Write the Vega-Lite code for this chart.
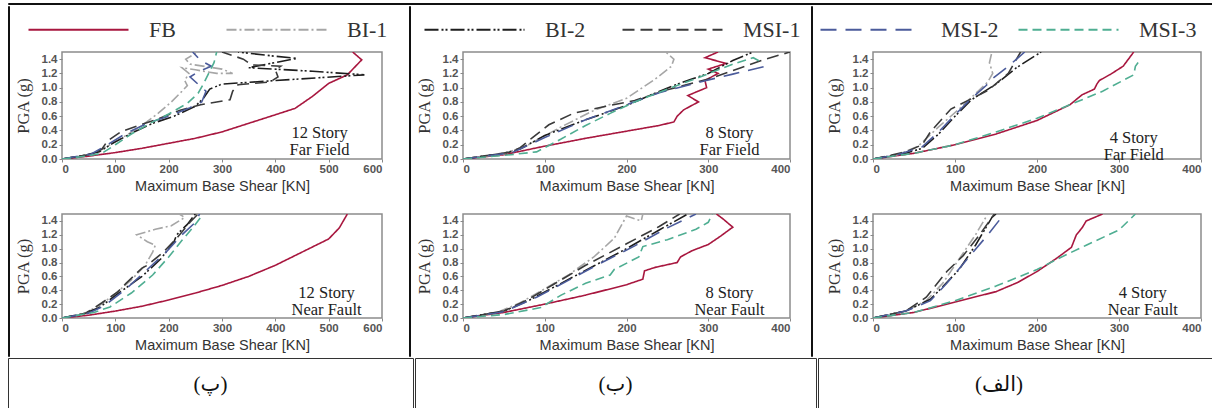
{
"$schema": "https://vega.github.io/schema/vega-lite/v6.json",
"padding": {"left": 7, "top": 2, "right": 0, "bottom": 0},
"datasets": {"c": [
{"p":"12F","s":"FB","x":0,"y":0},{"p":"12F","s":"FB","x":50,"y":0.04},{"p":"12F","s":"FB","x":100,"y":0.09},{"p":"12F","s":"FB","x":150,"y":0.15},{"p":"12F","s":"FB","x":200,"y":0.22},{"p":"12F","s":"FB","x":250,"y":0.29},{"p":"12F","s":"FB","x":300,"y":0.38},{"p":"12F","s":"FB","x":350,"y":0.5},{"p":"12F","s":"FB","x":400,"y":0.62},{"p":"12F","s":"FB","x":437,"y":0.71},{"p":"12F","s":"FB","x":470,"y":0.88},{"p":"12F","s":"FB","x":500,"y":1.06},{"p":"12F","s":"FB","x":535,"y":1.18},{"p":"12F","s":"FB","x":562,"y":1.39},{"p":"12F","s":"FB","x":545,"y":1.5},
{"p":"12F","s":"BI-1","x":0,"y":0},{"p":"12F","s":"BI-1","x":60,"y":0.07},{"p":"12F","s":"BI-1","x":90,"y":0.2},{"p":"12F","s":"BI-1","x":120,"y":0.33},{"p":"12F","s":"BI-1","x":150,"y":0.47},{"p":"12F","s":"BI-1","x":180,"y":0.64},{"p":"12F","s":"BI-1","x":205,"y":0.8},{"p":"12F","s":"BI-1","x":225,"y":0.95},{"p":"12F","s":"BI-1","x":235,"y":1.03},{"p":"12F","s":"BI-1","x":230,"y":1.1},{"p":"12F","s":"BI-1","x":238,"y":1.2},{"p":"12F","s":"BI-1","x":225,"y":1.28},{"p":"12F","s":"BI-1","x":250,"y":1.25},{"p":"12F","s":"BI-1","x":290,"y":1.2},{"p":"12F","s":"BI-1","x":320,"y":1.2},{"p":"12F","s":"BI-1","x":300,"y":1.26},{"p":"12F","s":"BI-1","x":240,"y":1.33},{"p":"12F","s":"BI-1","x":232,"y":1.4},{"p":"12F","s":"BI-1","x":255,"y":1.5},
{"p":"12F","s":"BI-2","x":0,"y":0},{"p":"12F","s":"BI-2","x":40,"y":0.05},{"p":"12F","s":"BI-2","x":70,"y":0.1},{"p":"12F","s":"BI-2","x":95,"y":0.22},{"p":"12F","s":"BI-2","x":130,"y":0.36},{"p":"12F","s":"BI-2","x":170,"y":0.5},{"p":"12F","s":"BI-2","x":210,"y":0.6},{"p":"12F","s":"BI-2","x":250,"y":0.74},{"p":"12F","s":"BI-2","x":265,"y":0.85},{"p":"12F","s":"BI-2","x":277,"y":0.98},{"p":"12F","s":"BI-2","x":300,"y":1.05},{"p":"12F","s":"BI-2","x":400,"y":1.1},{"p":"12F","s":"BI-2","x":567,"y":1.18},{"p":"12F","s":"BI-2","x":470,"y":1.23},{"p":"12F","s":"BI-2","x":350,"y":1.28},{"p":"12F","s":"BI-2","x":440,"y":1.41},{"p":"12F","s":"BI-2","x":400,"y":1.44},{"p":"12F","s":"BI-2","x":330,"y":1.5},
{"p":"12F","s":"MSI-1","x":0,"y":0},{"p":"12F","s":"MSI-1","x":50,"y":0.06},{"p":"12F","s":"MSI-1","x":75,"y":0.14},{"p":"12F","s":"MSI-1","x":85,"y":0.25},{"p":"12F","s":"MSI-1","x":110,"y":0.38},{"p":"12F","s":"MSI-1","x":140,"y":0.46},{"p":"12F","s":"MSI-1","x":180,"y":0.56},{"p":"12F","s":"MSI-1","x":220,"y":0.68},{"p":"12F","s":"MSI-1","x":260,"y":0.76},{"p":"12F","s":"MSI-1","x":290,"y":0.8},{"p":"12F","s":"MSI-1","x":315,"y":0.83},{"p":"12F","s":"MSI-1","x":320,"y":0.95},{"p":"12F","s":"MSI-1","x":330,"y":1.04},{"p":"12F","s":"MSI-1","x":390,"y":1.08},{"p":"12F","s":"MSI-1","x":405,"y":1.15},{"p":"12F","s":"MSI-1","x":400,"y":1.25},{"p":"12F","s":"MSI-1","x":410,"y":1.3},{"p":"12F","s":"MSI-1","x":355,"y":1.32},{"p":"12F","s":"MSI-1","x":340,"y":1.4},{"p":"12F","s":"MSI-1","x":300,"y":1.5},
{"p":"12F","s":"MSI-2","x":0,"y":0},{"p":"12F","s":"MSI-2","x":55,"y":0.07},{"p":"12F","s":"MSI-2","x":85,"y":0.2},{"p":"12F","s":"MSI-2","x":120,"y":0.36},{"p":"12F","s":"MSI-2","x":160,"y":0.5},{"p":"12F","s":"MSI-2","x":200,"y":0.6},{"p":"12F","s":"MSI-2","x":240,"y":0.72},{"p":"12F","s":"MSI-2","x":262,"y":0.8},{"p":"12F","s":"MSI-2","x":270,"y":0.95},{"p":"12F","s":"MSI-2","x":255,"y":1.05},{"p":"12F","s":"MSI-2","x":240,"y":1.15},{"p":"12F","s":"MSI-2","x":255,"y":1.22},{"p":"12F","s":"MSI-2","x":280,"y":1.3},{"p":"12F","s":"MSI-2","x":260,"y":1.38},{"p":"12F","s":"MSI-2","x":245,"y":1.5},
{"p":"12F","s":"MSI-3","x":0,"y":0},{"p":"12F","s":"MSI-3","x":45,"y":0.04},{"p":"12F","s":"MSI-3","x":75,"y":0.08},{"p":"12F","s":"MSI-3","x":100,"y":0.2},{"p":"12F","s":"MSI-3","x":130,"y":0.35},{"p":"12F","s":"MSI-3","x":165,"y":0.5},{"p":"12F","s":"MSI-3","x":200,"y":0.63},{"p":"12F","s":"MSI-3","x":235,"y":0.78},{"p":"12F","s":"MSI-3","x":255,"y":0.92},{"p":"12F","s":"MSI-3","x":265,"y":1.05},{"p":"12F","s":"MSI-3","x":275,"y":1.2},{"p":"12F","s":"MSI-3","x":285,"y":1.35},{"p":"12F","s":"MSI-3","x":290,"y":1.5},
{"p":"12N","s":"FB","x":0,"y":0},{"p":"12N","s":"FB","x":50,"y":0.04},{"p":"12N","s":"FB","x":100,"y":0.1},{"p":"12N","s":"FB","x":150,"y":0.17},{"p":"12N","s":"FB","x":200,"y":0.26},{"p":"12N","s":"FB","x":250,"y":0.36},{"p":"12N","s":"FB","x":300,"y":0.47},{"p":"12N","s":"FB","x":350,"y":0.6},{"p":"12N","s":"FB","x":400,"y":0.76},{"p":"12N","s":"FB","x":450,"y":0.95},{"p":"12N","s":"FB","x":500,"y":1.14},{"p":"12N","s":"FB","x":520,"y":1.3},{"p":"12N","s":"FB","x":535,"y":1.5},
{"p":"12N","s":"BI-1","x":0,"y":0},{"p":"12N","s":"BI-1","x":40,"y":0.06},{"p":"12N","s":"BI-1","x":70,"y":0.18},{"p":"12N","s":"BI-1","x":100,"y":0.35},{"p":"12N","s":"BI-1","x":130,"y":0.55},{"p":"12N","s":"BI-1","x":155,"y":0.75},{"p":"12N","s":"BI-1","x":170,"y":0.95},{"p":"12N","s":"BI-1","x":175,"y":1.05},{"p":"12N","s":"BI-1","x":160,"y":1.1},{"p":"12N","s":"BI-1","x":140,"y":1.2},{"p":"12N","s":"BI-1","x":175,"y":1.28},{"p":"12N","s":"BI-1","x":205,"y":1.33},{"p":"12N","s":"BI-1","x":230,"y":1.45},{"p":"12N","s":"BI-1","x":220,"y":1.5},
{"p":"12N","s":"BI-2","x":0,"y":0},{"p":"12N","s":"BI-2","x":40,"y":0.06},{"p":"12N","s":"BI-2","x":70,"y":0.15},{"p":"12N","s":"BI-2","x":110,"y":0.38},{"p":"12N","s":"BI-2","x":150,"y":0.6},{"p":"12N","s":"BI-2","x":185,"y":0.85},{"p":"12N","s":"BI-2","x":210,"y":1.1},{"p":"12N","s":"BI-2","x":215,"y":1.2},{"p":"12N","s":"BI-2","x":235,"y":1.35},{"p":"12N","s":"BI-2","x":250,"y":1.5},
{"p":"12N","s":"MSI-1","x":0,"y":0},{"p":"12N","s":"MSI-1","x":45,"y":0.07},{"p":"12N","s":"MSI-1","x":75,"y":0.22},{"p":"12N","s":"MSI-1","x":105,"y":0.38},{"p":"12N","s":"MSI-1","x":120,"y":0.5},{"p":"12N","s":"MSI-1","x":150,"y":0.72},{"p":"12N","s":"MSI-1","x":160,"y":0.76},{"p":"12N","s":"MSI-1","x":190,"y":0.95},{"p":"12N","s":"MSI-1","x":215,"y":1.15},{"p":"12N","s":"MSI-1","x":240,"y":1.38},{"p":"12N","s":"MSI-1","x":255,"y":1.5},
{"p":"12N","s":"MSI-2","x":0,"y":0},{"p":"12N","s":"MSI-2","x":50,"y":0.07},{"p":"12N","s":"MSI-2","x":80,"y":0.18},{"p":"12N","s":"MSI-2","x":120,"y":0.42},{"p":"12N","s":"MSI-2","x":160,"y":0.7},{"p":"12N","s":"MSI-2","x":195,"y":0.95},{"p":"12N","s":"MSI-2","x":225,"y":1.2},{"p":"12N","s":"MSI-2","x":250,"y":1.38},{"p":"12N","s":"MSI-2","x":258,"y":1.5},
{"p":"12N","s":"MSI-3","x":0,"y":0},{"p":"12N","s":"MSI-3","x":60,"y":0.08},{"p":"12N","s":"MSI-3","x":90,"y":0.16},{"p":"12N","s":"MSI-3","x":130,"y":0.36},{"p":"12N","s":"MSI-3","x":170,"y":0.62},{"p":"12N","s":"MSI-3","x":200,"y":0.88},{"p":"12N","s":"MSI-3","x":225,"y":1.12},{"p":"12N","s":"MSI-3","x":245,"y":1.3},{"p":"12N","s":"MSI-3","x":260,"y":1.45},
{"p":"8F","s":"FB","x":0,"y":0},{"p":"8F","s":"FB","x":50,"y":0.06},{"p":"8F","s":"FB","x":100,"y":0.18},{"p":"8F","s":"FB","x":150,"y":0.29},{"p":"8F","s":"FB","x":200,"y":0.39},{"p":"8F","s":"FB","x":240,"y":0.47},{"p":"8F","s":"FB","x":258,"y":0.52},{"p":"8F","s":"FB","x":262,"y":0.6},{"p":"8F","s":"FB","x":270,"y":0.69},{"p":"8F","s":"FB","x":288,"y":0.8},{"p":"8F","s":"FB","x":275,"y":0.89},{"p":"8F","s":"FB","x":298,"y":1.0},{"p":"8F","s":"FB","x":296,"y":1.1},{"p":"8F","s":"FB","x":312,"y":1.2},{"p":"8F","s":"FB","x":300,"y":1.26},{"p":"8F","s":"FB","x":322,"y":1.34},{"p":"8F","s":"FB","x":296,"y":1.42},{"p":"8F","s":"FB","x":312,"y":1.5},
{"p":"8F","s":"BI-1","x":0,"y":0},{"p":"8F","s":"BI-1","x":50,"y":0.07},{"p":"8F","s":"BI-1","x":80,"y":0.2},{"p":"8F","s":"BI-1","x":120,"y":0.45},{"p":"8F","s":"BI-1","x":160,"y":0.68},{"p":"8F","s":"BI-1","x":200,"y":0.85},{"p":"8F","s":"BI-1","x":235,"y":1.12},{"p":"8F","s":"BI-1","x":255,"y":1.3},{"p":"8F","s":"BI-1","x":258,"y":1.4},{"p":"8F","s":"BI-1","x":248,"y":1.5},
{"p":"8F","s":"BI-2","x":0,"y":0},{"p":"8F","s":"BI-2","x":50,"y":0.08},{"p":"8F","s":"BI-2","x":70,"y":0.14},{"p":"8F","s":"BI-2","x":100,"y":0.33},{"p":"8F","s":"BI-2","x":150,"y":0.55},{"p":"8F","s":"BI-2","x":200,"y":0.75},{"p":"8F","s":"BI-2","x":230,"y":0.9},{"p":"8F","s":"BI-2","x":260,"y":1.04},{"p":"8F","s":"BI-2","x":280,"y":1.12},{"p":"8F","s":"BI-2","x":300,"y":1.2},{"p":"8F","s":"BI-2","x":330,"y":1.38},{"p":"8F","s":"BI-2","x":355,"y":1.5},
{"p":"8F","s":"MSI-1","x":0,"y":0},{"p":"8F","s":"MSI-1","x":60,"y":0.1},{"p":"8F","s":"MSI-1","x":70,"y":0.16},{"p":"8F","s":"MSI-1","x":85,"y":0.3},{"p":"8F","s":"MSI-1","x":105,"y":0.48},{"p":"8F","s":"MSI-1","x":135,"y":0.64},{"p":"8F","s":"MSI-1","x":175,"y":0.74},{"p":"8F","s":"MSI-1","x":210,"y":0.82},{"p":"8F","s":"MSI-1","x":250,"y":0.97},{"p":"8F","s":"MSI-1","x":300,"y":1.12},{"p":"8F","s":"MSI-1","x":340,"y":1.28},{"p":"8F","s":"MSI-1","x":370,"y":1.4},{"p":"8F","s":"MSI-1","x":400,"y":1.5},
{"p":"8F","s":"MSI-2","x":0,"y":0},{"p":"8F","s":"MSI-2","x":60,"y":0.09},{"p":"8F","s":"MSI-2","x":100,"y":0.3},{"p":"8F","s":"MSI-2","x":150,"y":0.55},{"p":"8F","s":"MSI-2","x":200,"y":0.76},{"p":"8F","s":"MSI-2","x":240,"y":0.93},{"p":"8F","s":"MSI-2","x":290,"y":1.08},{"p":"8F","s":"MSI-2","x":330,"y":1.19},{"p":"8F","s":"MSI-2","x":370,"y":1.3},
{"p":"8F","s":"MSI-3","x":0,"y":0},{"p":"8F","s":"MSI-3","x":50,"y":0.05},{"p":"8F","s":"MSI-3","x":90,"y":0.1},{"p":"8F","s":"MSI-3","x":120,"y":0.28},{"p":"8F","s":"MSI-3","x":150,"y":0.47},{"p":"8F","s":"MSI-3","x":180,"y":0.64},{"p":"8F","s":"MSI-3","x":210,"y":0.8},{"p":"8F","s":"MSI-3","x":250,"y":0.98},{"p":"8F","s":"MSI-3","x":290,"y":1.15},{"p":"8F","s":"MSI-3","x":330,"y":1.33},{"p":"8F","s":"MSI-3","x":355,"y":1.42},{"p":"8F","s":"MSI-3","x":365,"y":1.36},
{"p":"8N","s":"FB","x":0,"y":0},{"p":"8N","s":"FB","x":50,"y":0.08},{"p":"8N","s":"FB","x":100,"y":0.2},{"p":"8N","s":"FB","x":150,"y":0.33},{"p":"8N","s":"FB","x":200,"y":0.48},{"p":"8N","s":"FB","x":220,"y":0.56},{"p":"8N","s":"FB","x":222,"y":0.68},{"p":"8N","s":"FB","x":235,"y":0.73},{"p":"8N","s":"FB","x":262,"y":0.8},{"p":"8N","s":"FB","x":266,"y":0.88},{"p":"8N","s":"FB","x":280,"y":0.97},{"p":"8N","s":"FB","x":300,"y":1.06},{"p":"8N","s":"FB","x":315,"y":1.18},{"p":"8N","s":"FB","x":330,"y":1.31},{"p":"8N","s":"FB","x":318,"y":1.43},{"p":"8N","s":"FB","x":310,"y":1.5},
{"p":"8N","s":"BI-1","x":0,"y":0},{"p":"8N","s":"BI-1","x":40,"y":0.07},{"p":"8N","s":"BI-1","x":70,"y":0.22},{"p":"8N","s":"BI-1","x":100,"y":0.42},{"p":"8N","s":"BI-1","x":130,"y":0.63},{"p":"8N","s":"BI-1","x":160,"y":0.88},{"p":"8N","s":"BI-1","x":185,"y":1.15},{"p":"8N","s":"BI-1","x":200,"y":1.47},{"p":"8N","s":"BI-1","x":218,"y":1.4},{"p":"8N","s":"BI-1","x":220,"y":1.5},
{"p":"8N","s":"BI-2","x":0,"y":0},{"p":"8N","s":"BI-2","x":50,"y":0.1},{"p":"8N","s":"BI-2","x":80,"y":0.25},{"p":"8N","s":"BI-2","x":120,"y":0.5},{"p":"8N","s":"BI-2","x":160,"y":0.75},{"p":"8N","s":"BI-2","x":200,"y":1.0},{"p":"8N","s":"BI-2","x":240,"y":1.27},{"p":"8N","s":"BI-2","x":275,"y":1.5},
{"p":"8N","s":"MSI-1","x":0,"y":0},{"p":"8N","s":"MSI-1","x":50,"y":0.1},{"p":"8N","s":"MSI-1","x":80,"y":0.27},{"p":"8N","s":"MSI-1","x":110,"y":0.48},{"p":"8N","s":"MSI-1","x":150,"y":0.76},{"p":"8N","s":"MSI-1","x":200,"y":1.07},{"p":"8N","s":"MSI-1","x":240,"y":1.32},{"p":"8N","s":"MSI-1","x":265,"y":1.5},
{"p":"8N","s":"MSI-2","x":0,"y":0},{"p":"8N","s":"MSI-2","x":50,"y":0.09},{"p":"8N","s":"MSI-2","x":90,"y":0.3},{"p":"8N","s":"MSI-2","x":130,"y":0.55},{"p":"8N","s":"MSI-2","x":170,"y":0.8},{"p":"8N","s":"MSI-2","x":210,"y":1.04},{"p":"8N","s":"MSI-2","x":250,"y":1.3},{"p":"8N","s":"MSI-2","x":285,"y":1.5},
{"p":"8N","s":"MSI-3","x":0,"y":0},{"p":"8N","s":"MSI-3","x":50,"y":0.05},{"p":"8N","s":"MSI-3","x":95,"y":0.15},{"p":"8N","s":"MSI-3","x":120,"y":0.33},{"p":"8N","s":"MSI-3","x":150,"y":0.5},{"p":"8N","s":"MSI-3","x":180,"y":0.62},{"p":"8N","s":"MSI-3","x":185,"y":0.7},{"p":"8N","s":"MSI-3","x":215,"y":0.88},{"p":"8N","s":"MSI-3","x":220,"y":1.03},{"p":"8N","s":"MSI-3","x":250,"y":1.13},{"p":"8N","s":"MSI-3","x":285,"y":1.28},{"p":"8N","s":"MSI-3","x":300,"y":1.38},{"p":"8N","s":"MSI-3","x":305,"y":1.5},
{"p":"4F","s":"FB","x":0,"y":0},{"p":"4F","s":"FB","x":50,"y":0.08},{"p":"4F","s":"FB","x":100,"y":0.2},{"p":"4F","s":"FB","x":150,"y":0.35},{"p":"4F","s":"FB","x":200,"y":0.54},{"p":"4F","s":"FB","x":240,"y":0.76},{"p":"4F","s":"FB","x":255,"y":0.9},{"p":"4F","s":"FB","x":270,"y":0.98},{"p":"4F","s":"FB","x":273,"y":1.05},{"p":"4F","s":"FB","x":276,"y":1.1},{"p":"4F","s":"FB","x":290,"y":1.19},{"p":"4F","s":"FB","x":305,"y":1.3},{"p":"4F","s":"FB","x":318,"y":1.5},
{"p":"4F","s":"BI-1","x":0,"y":0},{"p":"4F","s":"BI-1","x":30,"y":0.06},{"p":"4F","s":"BI-1","x":55,"y":0.18},{"p":"4F","s":"BI-1","x":80,"y":0.45},{"p":"4F","s":"BI-1","x":105,"y":0.7},{"p":"4F","s":"BI-1","x":128,"y":0.95},{"p":"4F","s":"BI-1","x":140,"y":1.08},{"p":"4F","s":"BI-1","x":146,"y":1.2},{"p":"4F","s":"BI-1","x":142,"y":1.35},{"p":"4F","s":"BI-1","x":145,"y":1.5},
{"p":"4F","s":"BI-2","x":0,"y":0},{"p":"4F","s":"BI-2","x":40,"y":0.08},{"p":"4F","s":"BI-2","x":60,"y":0.15},{"p":"4F","s":"BI-2","x":80,"y":0.35},{"p":"4F","s":"BI-2","x":100,"y":0.6},{"p":"4F","s":"BI-2","x":120,"y":0.83},{"p":"4F","s":"BI-2","x":150,"y":1.05},{"p":"4F","s":"BI-2","x":175,"y":1.28},{"p":"4F","s":"BI-2","x":205,"y":1.5},
{"p":"4F","s":"MSI-1","x":0,"y":0},{"p":"4F","s":"MSI-1","x":40,"y":0.1},{"p":"4F","s":"MSI-1","x":60,"y":0.2},{"p":"4F","s":"MSI-1","x":70,"y":0.38},{"p":"4F","s":"MSI-1","x":95,"y":0.7},{"p":"4F","s":"MSI-1","x":140,"y":0.96},{"p":"4F","s":"MSI-1","x":165,"y":1.2},{"p":"4F","s":"MSI-1","x":180,"y":1.5},
{"p":"4F","s":"MSI-2","x":0,"y":0},{"p":"4F","s":"MSI-2","x":30,"y":0.06},{"p":"4F","s":"MSI-2","x":60,"y":0.17},{"p":"4F","s":"MSI-2","x":80,"y":0.38},{"p":"4F","s":"MSI-2","x":100,"y":0.62},{"p":"4F","s":"MSI-2","x":120,"y":0.85},{"p":"4F","s":"MSI-2","x":138,"y":1.03},{"p":"4F","s":"MSI-2","x":145,"y":1.12},{"p":"4F","s":"MSI-2","x":165,"y":1.3},{"p":"4F","s":"MSI-2","x":185,"y":1.5},
{"p":"4F","s":"MSI-3","x":0,"y":0},{"p":"4F","s":"MSI-3","x":50,"y":0.08},{"p":"4F","s":"MSI-3","x":100,"y":0.2},{"p":"4F","s":"MSI-3","x":150,"y":0.38},{"p":"4F","s":"MSI-3","x":200,"y":0.57},{"p":"4F","s":"MSI-3","x":240,"y":0.76},{"p":"4F","s":"MSI-3","x":280,"y":0.95},{"p":"4F","s":"MSI-3","x":318,"y":1.18},{"p":"4F","s":"MSI-3","x":320,"y":1.3},{"p":"4F","s":"MSI-3","x":325,"y":1.38},
{"p":"4N","s":"FB","x":0,"y":0},{"p":"4N","s":"FB","x":50,"y":0.08},{"p":"4N","s":"FB","x":100,"y":0.23},{"p":"4N","s":"FB","x":150,"y":0.38},{"p":"4N","s":"FB","x":176,"y":0.51},{"p":"4N","s":"FB","x":200,"y":0.67},{"p":"4N","s":"FB","x":225,"y":0.87},{"p":"4N","s":"FB","x":242,"y":1.02},{"p":"4N","s":"FB","x":248,"y":1.2},{"p":"4N","s":"FB","x":255,"y":1.3},{"p":"4N","s":"FB","x":260,"y":1.4},{"p":"4N","s":"FB","x":280,"y":1.5},
{"p":"4N","s":"BI-1","x":0,"y":0},{"p":"4N","s":"BI-1","x":40,"y":0.1},{"p":"4N","s":"BI-1","x":65,"y":0.25},{"p":"4N","s":"BI-1","x":85,"y":0.5},{"p":"4N","s":"BI-1","x":105,"y":0.85},{"p":"4N","s":"BI-1","x":125,"y":1.2},{"p":"4N","s":"BI-1","x":140,"y":1.5},
{"p":"4N","s":"BI-2","x":0,"y":0},{"p":"4N","s":"BI-2","x":40,"y":0.1},{"p":"4N","s":"BI-2","x":70,"y":0.27},{"p":"4N","s":"BI-2","x":85,"y":0.45},{"p":"4N","s":"BI-2","x":105,"y":0.7},{"p":"4N","s":"BI-2","x":125,"y":1.05},{"p":"4N","s":"BI-2","x":145,"y":1.45},{"p":"4N","s":"BI-2","x":150,"y":1.5},
{"p":"4N","s":"MSI-1","x":0,"y":0},{"p":"4N","s":"MSI-1","x":40,"y":0.1},{"p":"4N","s":"MSI-1","x":65,"y":0.3},{"p":"4N","s":"MSI-1","x":75,"y":0.45},{"p":"4N","s":"MSI-1","x":90,"y":0.67},{"p":"4N","s":"MSI-1","x":110,"y":0.9},{"p":"4N","s":"MSI-1","x":130,"y":1.2},{"p":"4N","s":"MSI-1","x":148,"y":1.5},
{"p":"4N","s":"MSI-2","x":0,"y":0},{"p":"4N","s":"MSI-2","x":40,"y":0.1},{"p":"4N","s":"MSI-2","x":70,"y":0.25},{"p":"4N","s":"MSI-2","x":90,"y":0.5},{"p":"4N","s":"MSI-2","x":115,"y":0.85},{"p":"4N","s":"MSI-2","x":140,"y":1.2},{"p":"4N","s":"MSI-2","x":160,"y":1.5},
{"p":"4N","s":"MSI-3","x":0,"y":0},{"p":"4N","s":"MSI-3","x":50,"y":0.08},{"p":"4N","s":"MSI-3","x":100,"y":0.25},{"p":"4N","s":"MSI-3","x":150,"y":0.46},{"p":"4N","s":"MSI-3","x":200,"y":0.7},{"p":"4N","s":"MSI-3","x":230,"y":0.88},{"p":"4N","s":"MSI-3","x":260,"y":1.05},{"p":"4N","s":"MSI-3","x":300,"y":1.27},{"p":"4N","s":"MSI-3","x":320,"y":1.5}
]},
"spacing": 0,
"vconcat": [
 {"width": 1205, "height": 1, "data": {"values": []}, "mark": "point", "view": {"stroke": "#111", "strokeWidth": 1}},
 {"spacing": 24, "hconcat": [
   {"spacing": 4, "hconcat": [
     {"width": 1, "height": 350, "data": {"values": []}, "mark": "point", "view": {"stroke": "#111", "strokeWidth": 1}},
     {"spacing": 19, "vconcat": [
       {"width": 10, "height": 26, "data": {"values": []}, "mark": "point"},
       {"width": 320, "height": 107, "view": {"stroke": "#8c8c8c", "strokeWidth": 1.5}, "layer": [
         {"data": {"name": "c"}, "transform": [{"filter": "datum.p === '12F'"}], "mark": {"type": "line", "clip": true, "strokeWidth": 1.6},
          "encoding": {
           "x": {"field": "x", "type": "quantitative", "scale": {"domain": [0, 600], "nice": false}, "axis": {"values": [0,100,200,300,400,500,600], "tickCount": 10, "labelOverlap": false, "title": "Maximum Base Shear [KN]"}},
           "y": {"field": "y", "type": "quantitative", "scale": {"domain": [0, 1.5], "nice": false}, "axis": {"values": [0,0.2,0.4,0.6,0.8,1,1.2,1.4], "tickCount": 10, "labelOverlap": false, "format": ".1f", "title": "PGA (g)"}},
           "color": {"field": "s", "type": "nominal", "scale": {"domain": ["FB","BI-1","BI-2","MSI-1","MSI-2","MSI-3"], "range": ["#a8173f","#a6a6a6","#1e1e1e","#3a3a3a","#4b5b9b","#4fae92"]}, "legend": {"title": null, "symbolType": "M0,0H10"}},
           "strokeDash": {"field": "s", "type": "nominal", "scale": {"domain": ["FB","BI-1","BI-2","MSI-1","MSI-2","MSI-3"], "range": [[1,0],[10,3,2,3],[14,3,2,2,2,3],[12,6],[16,9],[9,5]]}, "legend": {"title": null, "symbolType": "M0,0H10"}},
           "order": {"value": null}}},
         {"data": {"values": [{}]}, "mark": {"type": "text", "font": "Liberation Serif", "fontSize": 16.5, "lineHeight": 17, "color": "#222"},
          "encoding": {"x": {"datum": 483}, "y": {"datum": 0.36}, "text": {"value": ["12 Story", "Far Field"]}}}
       ]},
       {"width": 320, "height": 104, "view": {"stroke": "#8c8c8c", "strokeWidth": 1.5}, "layer": [
         {"data": {"name": "c"}, "transform": [{"filter": "datum.p === '12N'"}], "mark": {"type": "line", "clip": true, "strokeWidth": 1.6},
          "encoding": {
           "x": {"field": "x", "type": "quantitative", "scale": {"domain": [0, 600], "nice": false}, "axis": {"values": [0,100,200,300,400,500,600], "tickCount": 10, "labelOverlap": false, "title": "Maximum Base Shear [KN]"}},
           "y": {"field": "y", "type": "quantitative", "scale": {"domain": [0, 1.5], "nice": false}, "axis": {"values": [0,0.2,0.4,0.6,0.8,1,1.2,1.4], "tickCount": 10, "labelOverlap": false, "format": ".1f", "title": "PGA (g)"}},
           "color": {"field": "s", "type": "nominal", "legend": {"title": null, "symbolType": "M0,0H10"}},
           "strokeDash": {"field": "s", "type": "nominal", "legend": {"title": null, "symbolType": "M0,0H10"}},
           "order": {"value": null}}},
         {"data": {"values": [{}]}, "mark": {"type": "text", "font": "Liberation Serif", "fontSize": 16.5, "lineHeight": 17, "color": "#222"},
          "encoding": {"x": {"datum": 496}, "y": {"datum": 0.36}, "text": {"value": ["12 Story", "Near Fault"]}}}
       ]}
     ]}
   ]},
   {"spacing": 18, "hconcat": [
     {"spacing": 4, "hconcat": [
       {"width": 1, "height": 350, "data": {"values": []}, "mark": "point", "view": {"stroke": "#111", "strokeWidth": 1}},
       {"spacing": 19, "vconcat": [
         {"width": 10, "height": 26, "data": {"values": []}, "mark": "point"},
         {"width": 327, "height": 107, "view": {"stroke": "#8c8c8c", "strokeWidth": 1.5}, "layer": [
           {"data": {"name": "c"}, "transform": [{"filter": "datum.p === '8F'"}], "mark": {"type": "line", "clip": true, "strokeWidth": 1.6},
            "encoding": {
             "x": {"field": "x", "type": "quantitative", "scale": {"domain": [0, 400], "nice": false}, "axis": {"values": [0,100,200,300,400], "tickCount": 10, "labelOverlap": false, "title": "Maximum Base Shear [KN]"}},
             "y": {"field": "y", "type": "quantitative", "scale": {"domain": [0, 1.5], "nice": false}, "axis": {"values": [0,0.2,0.4,0.6,0.8,1,1.2,1.4], "tickCount": 10, "labelOverlap": false, "format": ".1f", "title": "PGA (g)"}},
             "color": {"field": "s", "type": "nominal", "legend": {"title": null, "symbolType": "M0,0H10"}},
             "strokeDash": {"field": "s", "type": "nominal", "legend": {"title": null, "symbolType": "M0,0H10"}},
             "order": {"value": null}}},
           {"data": {"values": [{}]}, "mark": {"type": "text", "font": "Liberation Serif", "fontSize": 16.5, "lineHeight": 17, "color": "#222"},
            "encoding": {"x": {"datum": 326}, "y": {"datum": 0.36}, "text": {"value": ["8 Story", "Far Field"]}}}
         ]},
         {"width": 327, "height": 104, "view": {"stroke": "#8c8c8c", "strokeWidth": 1.5}, "layer": [
           {"data": {"name": "c"}, "transform": [{"filter": "datum.p === '8N'"}], "mark": {"type": "line", "clip": true, "strokeWidth": 1.6},
            "encoding": {
             "x": {"field": "x", "type": "quantitative", "scale": {"domain": [0, 400], "nice": false}, "axis": {"values": [0,100,200,300,400], "tickCount": 10, "labelOverlap": false, "title": "Maximum Base Shear [KN]"}},
             "y": {"field": "y", "type": "quantitative", "scale": {"domain": [0, 1.5], "nice": false}, "axis": {"values": [0,0.2,0.4,0.6,0.8,1,1.2,1.4], "tickCount": 10, "labelOverlap": false, "format": ".1f", "title": "PGA (g)"}},
             "color": {"field": "s", "type": "nominal", "legend": {"title": null, "symbolType": "M0,0H10"}},
             "strokeDash": {"field": "s", "type": "nominal", "legend": {"title": null, "symbolType": "M0,0H10"}},
             "order": {"value": null}}},
           {"data": {"values": [{}]}, "mark": {"type": "text", "font": "Liberation Serif", "fontSize": 16.5, "lineHeight": 17, "color": "#222"},
            "encoding": {"x": {"datum": 326}, "y": {"datum": 0.36}, "text": {"value": ["8 Story", "Near Fault"]}}}
         ]}
       ]}
     ]},
     {"spacing": 12, "hconcat": [
       {"width": 1, "height": 350, "data": {"values": []}, "mark": "point", "view": {"stroke": "#111", "strokeWidth": 1}},
       {"spacing": 19, "vconcat": [
         {"width": 10, "height": 26, "data": {"values": []}, "mark": "point"},
         {"width": 328, "height": 107, "view": {"stroke": "#8c8c8c", "strokeWidth": 1.5}, "layer": [
           {"data": {"name": "c"}, "transform": [{"filter": "datum.p === '4F'"}], "mark": {"type": "line", "clip": true, "strokeWidth": 1.6},
            "encoding": {
             "x": {"field": "x", "type": "quantitative", "scale": {"domain": [0, 400], "nice": false}, "axis": {"values": [0,100,200,300,400], "tickCount": 10, "labelOverlap": false, "title": "Maximum Base Shear [KN]"}},
             "y": {"field": "y", "type": "quantitative", "scale": {"domain": [0, 1.5], "nice": false}, "axis": {"values": [0,0.2,0.4,0.6,0.8,1,1.2,1.4], "tickCount": 10, "labelOverlap": false, "format": ".1f", "title": "PGA (g)"}},
             "color": {"field": "s", "type": "nominal", "legend": {"title": null, "symbolType": "M0,0H10"}},
             "strokeDash": {"field": "s", "type": "nominal", "legend": {"title": null, "symbolType": "M0,0H10"}},
             "order": {"value": null}}},
           {"data": {"values": [{}]}, "mark": {"type": "text", "font": "Liberation Serif", "fontSize": 16.5, "lineHeight": 17, "color": "#222"},
            "encoding": {"x": {"datum": 318}, "y": {"datum": 0.3}, "text": {"value": ["4 Story", "Far Field"]}}}
         ]},
         {"width": 328, "height": 104, "view": {"stroke": "#8c8c8c", "strokeWidth": 1.5}, "layer": [
           {"data": {"name": "c"}, "transform": [{"filter": "datum.p === '4N'"}], "mark": {"type": "line", "clip": true, "strokeWidth": 1.6},
            "encoding": {
             "x": {"field": "x", "type": "quantitative", "scale": {"domain": [0, 400], "nice": false}, "axis": {"values": [0,100,200,300,400], "tickCount": 10, "labelOverlap": false, "title": "Maximum Base Shear [KN]"}},
             "y": {"field": "y", "type": "quantitative", "scale": {"domain": [0, 1.5], "nice": false}, "axis": {"values": [0,0.2,0.4,0.6,0.8,1,1.2,1.4], "tickCount": 10, "labelOverlap": false, "format": ".1f", "title": "PGA (g)"}},
             "color": {"field": "s", "type": "nominal", "legend": {"title": null, "symbolType": "M0,0H10"}},
             "strokeDash": {"field": "s", "type": "nominal", "legend": {"title": null, "symbolType": "M0,0H10"}},
             "order": {"value": null}}},
           {"data": {"values": [{}]}, "mark": {"type": "text", "font": "Liberation Serif", "fontSize": 16.5, "lineHeight": 17, "color": "#222"},
            "encoding": {"x": {"datum": 329}, "y": {"datum": 0.36}, "text": {"value": ["4 Story", "Near Fault"]}}}
         ]}
       ]}
     ]}
   ]}
 ]},
 {"spacing": 0, "hconcat": [
   {"width": 405, "height": 54, "data": {"values": [{"t": "(پ)"}]}, "mark": {"type": "text", "font": "Liberation Serif, DejaVu Sans", "fontSize": 21, "color": "#111"}, "encoding": {"text": {"field": "t"}}, "view": {"stroke": "#333", "strokeWidth": 1}},
   {"width": 401, "height": 54, "data": {"values": [{"t": "(ب)"}]}, "mark": {"type": "text", "font": "Liberation Serif, DejaVu Sans", "fontSize": 21, "color": "#111"}, "encoding": {"text": {"field": "t"}}, "view": {"stroke": "#333", "strokeWidth": 1}},
   {"width": 402, "height": 54, "data": {"values": [{"t": "(الف)"}]}, "mark": {"type": "text", "font": "Liberation Serif, DejaVu Sans", "fontSize": 21, "color": "#111", "dx": -20}, "encoding": {"text": {"field": "t"}}, "view": {"stroke": "#333", "strokeWidth": 1}}
 ]}
],
"config": {
 "view": {"stroke": null},
 "font": "Liberation Sans",
 "axis": {"grid": false, "domain": false, "tickColor": "#888", "tickSize": 3, "labelOverlap": false, "labelFont": "Liberation Sans", "labelFontWeight": "bold", "labelFontSize": 11.5, "labelColor": "#555", "titleFontWeight": "normal", "titleColor": "#333"},
 "axisX": {"titleFont": "Liberation Sans", "titleFontSize": 14.5, "labelPadding": 1, "titlePadding": 5},
 "axisY": {"titleFont": "Liberation Serif", "titleFontSize": 16.5, "titlePadding": 10, "labelPadding": 2},
 "legend": {"orient": "none", "legendX": 9, "legendY": 15, "direction": "horizontal", "columns": 6, "symbolType": "M0,0H10", "symbolSize": 400, "symbolStrokeWidth": 2.2, "labelFont": "Liberation Serif", "labelFontSize": 22, "labelColor": "#333", "labelOffset": 109, "columnPadding": 8, "gridAlign": "all"}
}
}
